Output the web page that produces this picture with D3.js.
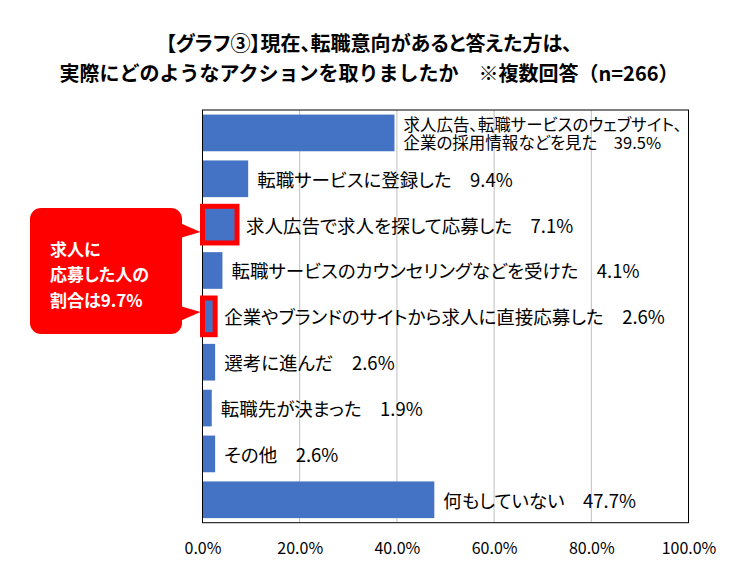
<!DOCTYPE html>
<html>
<head>
<meta charset="utf-8">
<script src="https://cdn.jsdelivr.net/npm/d3@7"></script>
<style>
  body { margin: 0; background: #fff; }
  svg text { font-family: "Noto Sans CJK JP", "Noto Sans", sans-serif; font-feature-settings: "palt"; }
</style>
</head>
<body>
<div id="chart"></div>
<script>
// Chart data
var titleLines = ["【グラフ③】現在、転職意向があると答えた方は、",
                  "実際にどのようなアクションを取りましたか　※複数回答（n=266）"];

var categories = ["求人広告、転職サービスのウェブサイト、企業の採用情報などを見た",
                  "転職サービスに登録した",
                  "求人広告で求人を探して応募した",
                  "転職サービスのカウンセリングなどを受けた",
                  "企業やブランドのサイトから求人に直接応募した",
                  "選考に進んだ",
                  "転職先が決まった",
                  "その他",
                  "何もしていない"];

// label text lines (first one wraps in the original)
var labelLines = [["求人広告、転職サービスのウェブサイト、", "企業の採用情報などを見た"],
                  ["転職サービスに登録した"],
                  ["求人広告で求人を探して応募した"],
                  ["転職サービスのカウンセリングなどを受けた"],
                  ["企業やブランドのサイトから求人に直接応募した"],
                  ["選考に進んだ"],
                  ["転職先が決まった"],
                  ["その他"],
                  ["何もしていない"]];

var values = [39.5, 9.4, 7.1, 4.1, 2.6, 2.6, 1.9, 2.6, 47.7];

var xTicks = [0, 20, 40, 60, 80, 100];

var highlighted = ["求人広告で求人を探して応募した",
                   "企業やブランドのサイトから求人に直接応募した"];

var calloutLines = ["求人に", "応募した人の", "割合は9.7%"];


var width = 729, height = 582;
var plot = {left: 202.5, right: 688.5, top: 110, bottom: 522.7};

var svg = d3.select("#chart").append("svg")
            .attr("width", width)
            .attr("height", height);

svg.append("rect").attr("width", width).attr("height", height).attr("fill", "#fff");

var x = d3.scaleLinear().domain([0, 100]).range([plot.left, plot.right]);
var y = d3.scaleBand().domain(categories).range([plot.top, plot.bottom])
          .paddingInner(0.2).paddingOuter(0.1);

//Title (second line keeps full-width punctuation)
svg.append("g").selectAll("text")
   .data(titleLines).enter()
   .append("text")
   .attr("x", 369)
   .attr("y", function(d, i) { return 42 + i * 30.5; })
   .attr("text-anchor", "middle")
   .attr("dominant-baseline", "central")
   .attr("font-size", "20px")
   .attr("font-weight", "bold")
   .attr("fill", "#000")
   .style("font-feature-settings", function(d, i) { return i == 0 ? "\"palt\"" : "normal"; })
   .text(function(d) { return d; });

//Gridlines
svg.append("g").selectAll("line")
   .data(xTicks.filter(function(d) { return d > 0 && d < 100; })).enter()
   .append("line")
   .attr("x1", function(d) { return x(d); })
   .attr("x2", function(d) { return x(d); })
   .attr("y1", plot.top)
   .attr("y2", plot.bottom)
   .attr("stroke", "#BFBFBF")
   .attr("stroke-width", 1);

//Bars
svg.append("g").selectAll("rect")
   .data(categories).enter()
   .append("rect")
   .attr("x", x(0))
   .attr("y", function(d) { return y(d); })
   .attr("width", function(d, i) { return x(values[i]) - x(0); })
   .attr("height", y.bandwidth())
   .attr("fill", "#4472C4");

//Plot frame
svg.append("rect")
   .attr("x", plot.left)
   .attr("y", plot.top)
   .attr("width", plot.right - plot.left)
   .attr("height", plot.bottom - plot.top)
   .attr("fill", "none")
   .attr("stroke", "#000")
   .attr("stroke-width", 1);

//X axis tick labels
var xAxis = d3.axisBottom(x)
              .tickValues(xTicks)
              .tickSize(0)
              .tickPadding(0)
              .tickFormat(function(d) { return d3.format(".1f")(d) + "%"; });

var ax = svg.append("g")
            .attr("transform", "translate(0," + 547 + ")")
            .call(xAxis);
ax.select(".domain").remove();
ax.selectAll("text")
  .attr("dy", null)
  .attr("dominant-baseline", "central")
  .attr("font-size", "16px")
  .attr("font-family", null)
  .attr("fill", "#000");

//Bar labels
var labels = svg.append("g").selectAll("text")
   .data(categories).enter()
   .append("text")
   .attr("font-size", "18.5px")
   .attr("fill", "#000")
   .attr("dominant-baseline", "central");

labels.each(function(d, i) {
    var t = d3.select(this);
    var lx = x(values[i]) + 9;
    var cy = y(d) + y.bandwidth() / 2;
    var lines = labelLines[i];
    var lh = 17.5;
    lines.forEach(function(line, j) {
        var ty = cy + (j - (lines.length - 1) / 2) * lh;
        var isLast = (j == lines.length - 1);
        t.append("tspan")
         .attr("x", lx)
         .attr("y", ty)
         .attr("font-size", lines.length > 1 ? "16.5px" : null)
         .text(isLast ? line + "\u3000" + values[i].toFixed(1) + "%" : line);
    });
});

//Red highlights
svg.append("g").selectAll("rect")
   .data(highlighted).enter()
   .append("rect")
   .attr("x", x(0))
   .attr("y", function(d) { return y(d); })
   .attr("width", function(d) { return x(values[categories.indexOf(d)]) - x(0); })
   .attr("height", y.bandwidth())
   .attr("fill", "none")
   .attr("stroke", "#FF0000")
   .attr("stroke-width", 5);

//Callout box with two pointers
var box = {x: 30, y: 208, w: 152, h: 126, r: 11};
var callout = svg.append("g");

callout.append("rect")
       .attr("x", box.x).attr("y", box.y)
       .attr("width", box.w).attr("height", box.h)
       .attr("rx", box.r).attr("ry", box.r)
       .attr("fill", "#FF0000");

var tipX = x(0) - 2;
var pointers = [[[box.x + box.w - 2, 223], [tipX, y(highlighted[0]) + y.bandwidth() * 0.7], [box.x + box.w - 2, 238]],
                [[box.x + box.w - 2, 306], [tipX, y(highlighted[1]) + y.bandwidth() * 0.38], [box.x + box.w - 2, 321]]];

callout.selectAll("path")
       .data(pointers).enter()
       .append("path")
       .attr("d", function(d) { return d3.line()(d) + "Z"; })
       .attr("fill", "#FF0000");

callout.selectAll("text")
       .data(calloutLines).enter()
       .append("text")
       .attr("x", 50)
       .attr("y", function(d, i) { return 248 + i * 25.5; })
       .attr("dominant-baseline", "central")
       .attr("font-size", "17px")
       .attr("font-weight", "bold")
       .attr("fill", "#fff")
       .text(function(d) { return d; });
</script>
</body>
</html>
